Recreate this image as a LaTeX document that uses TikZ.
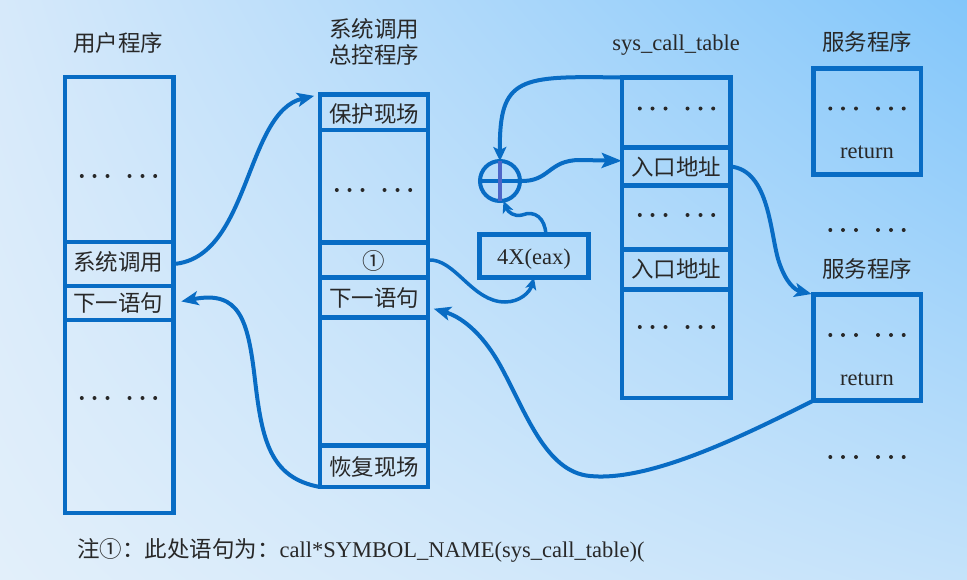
\documentclass[tikz,border=0pt]{standalone}
\usepackage{fontspec}
\setmainfont{Liberation Serif}
\newfontfamily\cjk{Noto Sans CJK SC}
\usetikzlibrary{arrows.meta,calc,shadings}
\definecolor{lineblue}{RGB}{8,108,196}
\definecolor{plusbar}{RGB}{78,102,200}
\definecolor{txtc}{RGB}{40,40,40}
\definecolor{bgUL}{RGB}{214,233,250}
\definecolor{bgUR}{RGB}{130,198,250}
\definecolor{bgLL}{RGB}{226,239,250}
\definecolor{bgLR}{RGB}{196,226,250}
\begin{document}
\begin{tikzpicture}[x=1pt,y=-1pt,
  cell/.style={draw=lineblue, line width=4.5pt, rectangle, inner sep=0pt, outer sep=0pt},
  conn/.style={draw=lineblue, line width=4pt, line cap=round, -{Stealth[length=17pt,width=14pt,inset=4pt]}},
  smallconn/.style={draw=lineblue, line width=3.5pt, line cap=round, -{Stealth[length=12pt,width=11pt,inset=3pt]}},
  zh/.style={inner sep=0pt, text=txtc, anchor=base, font=\cjk\fontsize{22.5}{26}\selectfont},
  la/.style={inner sep=0pt, text=txtc, anchor=base, font=\fontsize{22.5}{26}\selectfont}]
\shade[upper left=bgUL, upper right=bgUR, lower left=bgLL, lower right=bgLR] (0,0) rectangle (967,579);
\useasboundingbox (0,0) rectangle (967,579);

% user program column
\node[cell, minimum width=108.5pt, minimum height=165pt] (u1) at (119.25,159.5) {};
\node[cell, minimum width=108.5pt, minimum height=44pt] (u2) at (119.25,264) {};
\node[cell, minimum width=108.5pt, minimum height=34pt] (u3) at (119.25,303) {};
\node[cell, minimum width=108.5pt, minimum height=193pt] (u4) at (119.25,416.5) {};
\node[zh] (t1) at (118,51.5) {用户程序};
\node[zh] (u2t) at (118,270.5) {系统调用};
\node[zh] (u3t) at (118,311) {下一语句};

% system call control program
\node[cell, minimum width=108pt, minimum height=35.5pt] (m1) at (374,112.25) {};
\node[cell, minimum width=108pt, minimum height=112.5pt] (m2) at (374,186.25) {};
\node[cell, minimum width=108pt, minimum height=35pt] (m3) at (374,260) {};
\node[cell, minimum width=108pt, minimum height=40pt] (m4) at (374,297.5) {};
\node[cell, minimum width=108pt, minimum height=128pt] (m5) at (374,381.5) {};
\node[cell, minimum width=108pt, minimum height=41.5pt] (m6) at (374,466.25) {};
\node[zh] (t2a) at (374,37.5) {系统调用};
\node[zh] (t2b) at (374,63.5) {总控程序};
\node[zh] (m1t) at (374,122.5) {保护现场};
\node[zh] (m3t) at (374,269.5) {①};
\node[zh] (m4t) at (374,306) {下一语句};
\node[zh] (m6t) at (374,475.5) {恢复现场};

% sys_call_table
\node[cell, minimum width=108.5pt, minimum height=70pt] (s1) at (676,112.5) {};
\node[cell, minimum width=108.5pt, minimum height=38pt] (s2) at (676,166.5) {};
\node[cell, minimum width=108.5pt, minimum height=64pt] (s3) at (676,217.5) {};
\node[cell, minimum width=108.5pt, minimum height=40pt] (s4) at (676,269.5) {};
\node[cell, minimum width=108.5pt, minimum height=108.5pt] (s5) at (676,343.75) {};
\node[la] (t3) at (676,50) {sys\_call\_table};
\node[zh] (s2t) at (676,175.5) {入口地址};
\node[zh] (s4t) at (676,277.5) {入口地址};

% service programs
\node[cell, minimum width=107.5pt, minimum height=106pt] (svc1) at (867.25,121.5) {};
\node[cell, minimum width=107.5pt, minimum height=106pt] (svc2) at (867.25,347.5) {};
\node[zh] (t4) at (867,50.5) {服务程序};
\node[zh] (t5) at (867,277.5) {服务程序};
\node[la] (r1) at (867,158) {return};
\node[la] (r2) at (867,385) {return};

% 4X(eax) and adder
\node[cell, minimum width=109pt, minimum height=43pt] (four) at (534,256) {};
\node[la] (fourt) at (534,264) {4X(eax)};
\node[draw=lineblue, line width=4pt, circle, minimum size=40pt, inner sep=0pt, outer sep=0pt] (plus) at (500,181) {};
\draw[lineblue, line width=3.5pt] (plus.west) -- (plus.east);
\draw[plusbar, line width=3.5pt] (plus.north) -- (plus.south);

% dots
\foreach \cx/\cy in {118.5/176, 118.5/398, 373.5/190, 676.5/108.5, 676.5/215, 676.5/327,
                     867/108.5, 867/230, 867/335, 867/457} {
  \foreach \dx in {-36.7,-24,-11,11,24,36.7}
    \fill[txtc] (\cx+\dx,\cy) circle (2pt);
}

% connectors
\draw[conn, shorten >=6pt] (u2.east) .. controls (250,258) and (245,112) .. (m1.north west);
\draw[smallconn] (m3.east) .. controls (455,258) and (472,302) .. (505,302)
   .. controls (520,302) and (530,292) .. (four.south);
\draw[smallconn] (four.61) .. controls (545,218) and (535,210) .. (522,215)
   .. controls (514,217) and (508,212) .. (plus.-80);
\draw[conn, -{Stealth[length=14pt,width=13pt,inset=3pt]}] (s1.north west) .. controls (520,76) and (499,76) .. (plus.north);
\draw[conn, -{Stealth[length=20pt,width=15pt,inset=4pt]}] (plus.east) .. controls (550,182) and (548,160) .. (580,160) -- (s2.174);
\draw[conn, shorten >=2pt] (s2.east) .. controls (770,170) and (770,235) .. (779,262)
   .. controls (786,283) and (795,290) .. (svc2.north west);
\draw[conn, shorten >=6pt] (svc2.south west) .. controls (745,435) and (650,482) .. (590,476)
   .. controls (545,472) and (525,410) .. (500,365)
   .. controls (485,338) and (465,318) .. (m4.-10);
\draw[conn, shorten >=8pt] (m6.south west) .. controls (270,478) and (262,440) .. (255,380)
   .. controls (248,320) and (240,290) .. (u3.east);

% note
\node[inner sep=0pt, text=txtc, anchor=base west, font=\fontsize{22.5}{26}\selectfont] (note) at (77,557)
  {{\cjk 注①：此处语句为：}call*SYMBOL\_NAME(sys\_call\_table)(};
\end{tikzpicture}
\end{document}
